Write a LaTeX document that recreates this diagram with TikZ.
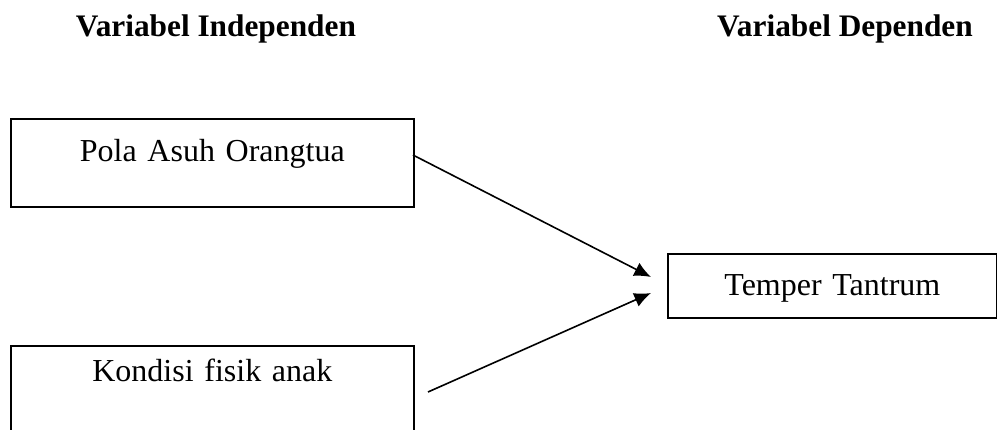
\documentclass[tikz,border=0pt]{standalone}
\usepackage{fontspec}
\setmainfont{Liberation Serif}
\usetikzlibrary{arrows.meta}
\begin{document}
\begin{tikzpicture}[x=0.75pt,y=-0.75pt,
  vbox/.style={draw, line width=1.3pt, inner sep=0pt, align=center, font=\fontsize{24}{28}\selectfont},
  head/.style={font=\fontsize{23.5}{27}\selectfont\bfseries, inner sep=0pt, anchor=base},
  conn/.style={line width=1.2pt, -{Latex[length=12.5pt,width=11pt]}}]
\useasboundingbox (0,0) rectangle (997,429);
\clip (0,0) rectangle (997,429);
\node[head] (h1) at (216,36) {Variabel Independen};
\node[head] (h2) at (845,36) {Variabel Dependen};
\node[vbox, anchor=north west, text width=302.25pt, text height=32pt, text depth=34pt] (b1) at (10,118) {Pola Asuh Orangtua};
\node[vbox, anchor=north west, text width=302.25pt, text height=27pt, text depth=51.75pt] (b2) at (10,345) {Kondisi fisik anak};
\node[vbox, anchor=north west, text width=246.75pt, text height=31.5pt, text depth=16.5pt] (b3) at (667,253) {Temper Tantrum};
\coordinate (s1) at (413,155);
\coordinate (t1) at (651,277);
\coordinate (s2) at (428,392);
\coordinate (t2) at (651,293);
\draw[conn] (s1) -- (t1);
\draw[conn] (s2) -- (t2);
\end{tikzpicture}
\end{document}
